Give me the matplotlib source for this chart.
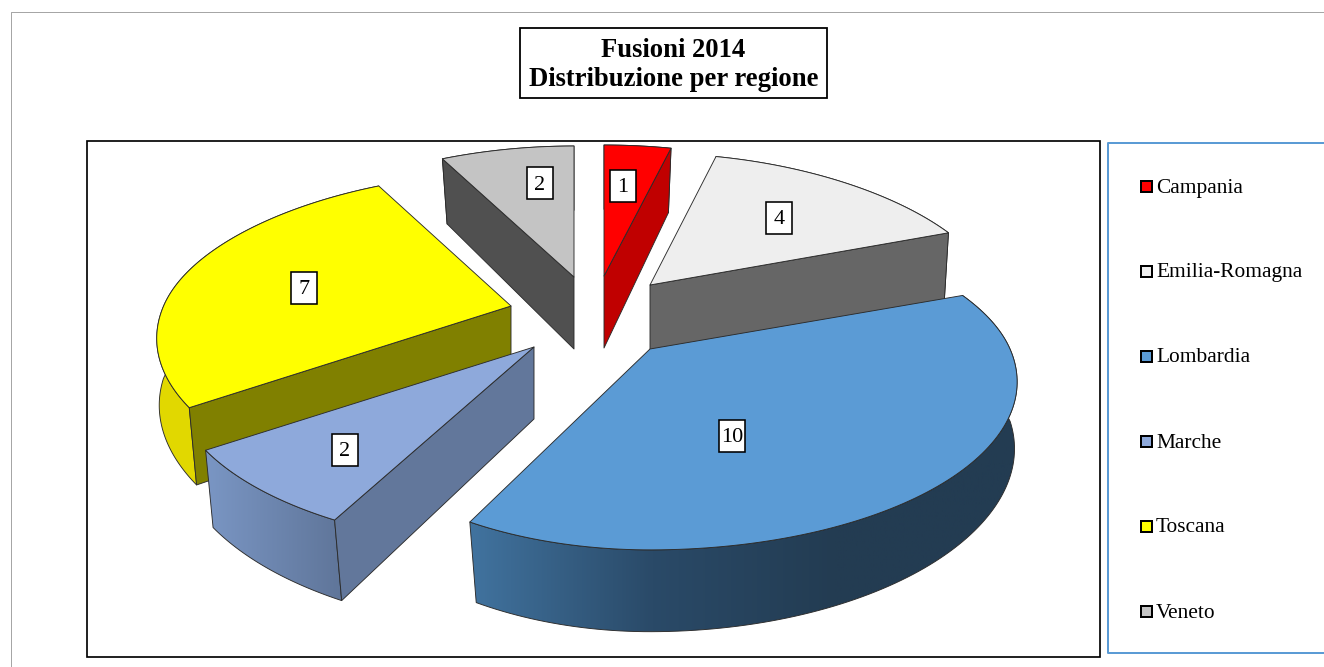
import numpy as np
import matplotlib
matplotlib.use("Agg")
import matplotlib.pyplot as plt
from matplotlib.patches import Polygon, Rectangle
from matplotlib.colors import LinearSegmentedColormap

plt.rcParams["font.family"] = ["Liberation Serif", "DejaVu Serif"]

# dati
regioni = ["Campania", "Emilia-Romagna", "Lombardia", "Marche", "Toscana", "Veneto"]
fusioni = [1, 4, 10, 2, 7, 2]

# colori
col_top = ["#ff0000", "#eeeeee", "#5b9bd5", "#8ea9db", "#ffff00", "#c4c4c4"]
col_radiale = ["#c00000", "#666666", "#2f5f88", "#62779b", "#808000", "#505050"]
col_lato = [
    ["#c00000", "#c00000"],
    ["#666666", "#666666"],
    ["#41739f", "#2a4a68", "#233c52", "#233c52"],
    ["#7a96c4", "#5f7599"],
    ["#e2d900", "#dcd400"],
    ["#505050", "#505050"],
]

# geometria del disegno (pixel), spicchi esplosi a mano
apice_x = [604, 650, 650, 534, 511, 574]
apice_y = [276, 285, 349, 347, 306, 277]
scala_x = [0.97, 0.955, 1.0, 0.985, 0.965, 0.96]
scala_y = [0.97, 0.975, 1.0, 1.0, 0.985, 0.97]
scala_sx = [1, 1, 0.89, 1, 1, 1]  # il lato sinistro di Lombardia e' piu' stretto
faccia = [-1, -1, None, 0, 0, 0]  # quale faccia radiale si vede
etichetta_x = [623, 779, 732, 345, 304, 540]
etichetta_y = [186, 218, 436, 450, 288, 183]
ordine = [5, 0, 1, 4, 3, 2]  # da dietro a davanti

RX, RY = 360, 161.5
K_X, K_RETRO, K_Y = 0.196, 0.06, 0.196
ALTEZZA, K_ALT = 72, 0.12

fig = plt.figure(figsize=(13.24, 6.67), dpi=100)
ax = fig.add_axes([0, 0, 1, 1])
px = 0.72  # un pixel in punti


def punti(i, theta):
    # proiezione prospettica: 0 gradi in alto, senso orario
    X, Y = np.sin(theta), np.cos(theta)
    dx = scala_x[i] * RX * X / (1 + K_X * Y + K_RETRO * np.maximum(Y, 0) ** 2)
    dx = np.where(dx < 0, dx * scala_sx[i], dx)
    x = apice_x[i] + dx
    y = apice_y[i] - scala_y[i] * RY * Y / (1 + K_Y * Y)
    xb = apice_x[i] + dx * (1 - 0.04 * np.abs(Y))
    yb = y + ALTEZZA / (1 + K_ALT * Y)
    return x, y, xb, yb


def poligono(xy, colore, z, edge="#2b2b2b"):
    p = Polygon(xy, closed=True, facecolor=colore, edgecolor=edge, lw=0.9 * px, zorder=z, joinstyle="round")
    ax.add_patch(p)
    return p


# angoli degli spicchi ricavati dai valori
fine = 2 * np.pi * np.cumsum(fusioni) / sum(fusioni)
inizio = np.concatenate([[0], fine[:-1]])

z = 2
for i in ordine:
    th = np.linspace(inizio[i], fine[i], 120)
    x, y, xb, yb = punti(i, th)
    ax0, ay0, axb, ayb = apice_x[i], apice_y[i], apice_x[i], apice_y[i] + ALTEZZA

    # lato esterno con sfumatura
    lato = np.column_stack([np.r_[x, xb[::-1]], np.r_[y, yb[::-1]]])
    p = poligono(lato, "none", z + 1)
    cmap = LinearSegmentedColormap.from_list("l%d" % i, col_lato[i])
    grad = np.linspace(0, 1, 256).reshape(1, -1)
    im = ax.imshow(grad, cmap=cmap, aspect="auto", zorder=z,
                   extent=[lato[:, 0].min(), lato[:, 0].max(), lato[:, 1].max(), lato[:, 1].min()])
    im.set_clip_path(p)

    # faccia radiale
    j = faccia[i]
    if j is not None:
        poligono([(ax0, ay0), (x[j], y[j]), (xb[j], yb[j]), (axb, ayb)], col_radiale[i], z + 2)

    # faccia superiore
    poligono(np.column_stack([np.r_[ax0, x], np.r_[ay0, y]]), col_top[i], z + 3)
    z += 4

# etichette con il valore
for i, v in enumerate(fusioni):
    ax.add_patch(Rectangle((etichetta_x[i] - 13, etichetta_y[i] - 16), 26, 32, facecolor="white",
                           edgecolor="black", lw=1.6 * px, zorder=50))
    ax.text(etichetta_x[i], etichetta_y[i] + 2, str(v), ha="center", va="center", fontsize=16, zorder=51)

# cornici
ax.plot([1324, 11, 11], [12, 12, 667], color="#a6a6a6", lw=1 * px, zorder=1)
ax.add_patch(Rectangle((87, 141), 1013, 516, facecolor="none", edgecolor="black", lw=1.7 * px, zorder=1))
ax.plot([1330, 1108, 1108, 1330], [143, 143, 653, 653], color="#5b9bd5", lw=2 * px, zorder=1)

# titolo
ax.add_patch(Rectangle((519.5, 28), 307, 70, facecolor="white", edgecolor="black", lw=1.8 * px, zorder=1))
ax.text(673.5, 65, "Fusioni 2014\nDistribuzione per regione", ha="center", va="center",
        fontsize=19.2, fontweight="bold", linespacing=1.25)

# legenda
for i, nome in enumerate(regioni):
    yy = 186 + 85 * i
    ax.add_patch(Rectangle((1141, yy - 5.5), 11, 11, facecolor=col_top[i], edgecolor="black", lw=2 * px))
    ax.text(1156, yy + 2, nome, ha="left", va="center", fontsize=15.4)

ax.set_xlim(0, 1324)
ax.set_ylim(667, 0)
ax.axis("off")

fig.savefig("out.png", dpi=100, facecolor="white")
